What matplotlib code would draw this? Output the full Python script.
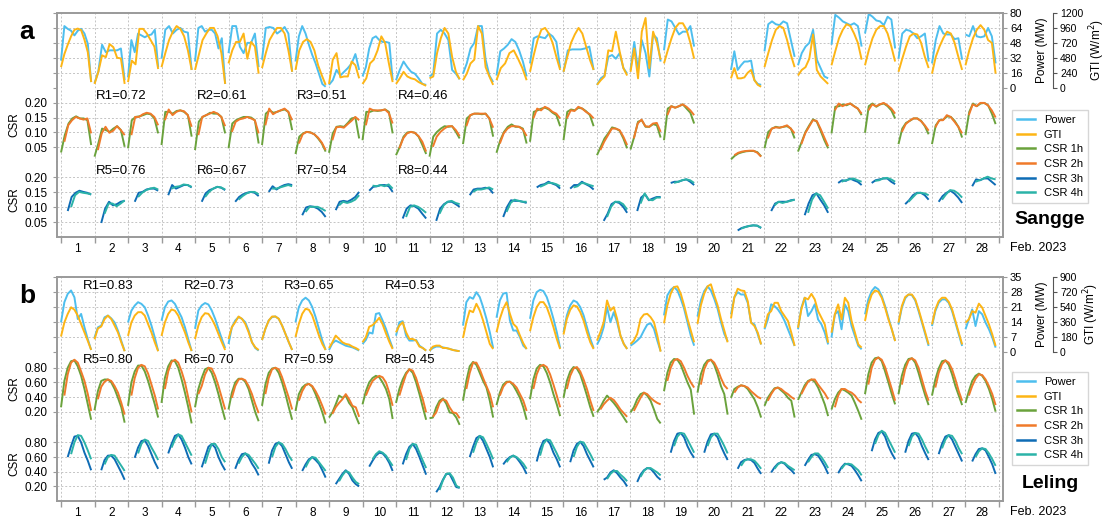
import numpy as np
import matplotlib
matplotlib.use('Agg')
import matplotlib.pyplot as plt
from matplotlib.lines import Line2D

plt.rcParams['font.family'] = ['Liberation Sans', 'DejaVu Sans']
plt.rcParams['font.size'] = 8

# === COLOURS ===
C_POWER = '#4DBEEE'
C_GTI = '#FDB515'
C_CSR1 = '#6AA23C'
C_CSR2 = '#F07A2A'
C_CSR3 = '#0E6CB5'
C_CSR4 = '#2BB3A8'
GRID_C = '#c4c4c4'
SPINE_C = '#9a9a9a'

DAYS = list(range(1, 29))
DAY_LABELS = [str(d) for d in DAYS]

# === SANGGE (hourly daytime values, one list per day) ===
sangge_power = [
    [29, 66, 63, 61, 56, 61, 63, 58, 47, 6], [5, 17, 46, 38, 40, 40, 40, 42, 8],
    [11, 51, 38, 58, 56, 54, 56, 57, 62, 22], [31, 62, 66, 58, 62, 64, 60, 59, 19],
    [28, 64, 66, 60, 62, 62, 58, 42, 53, 4], [37, 66, 66, 44, 37, 48, 48, 58, 22],
    [30, 64, 65, 64, 58, 61, 65, 58, 17], [28, 55, 66, 58, 46, 35, 26, 15, 4, 1],
    [3, 8, 19, 13, 17, 21, 26, 36, 19], [12, 22, 42, 53, 55, 51, 49, 49, 48, 8],
    [8, 19, 28, 22, 17, 15, 10, 4, 3], [12, 15, 58, 62, 58, 51, 19, 15, 9],
    [15, 26, 42, 48, 66, 66, 30, 13, 6], [13, 39, 42, 46, 52, 49, 40, 28, 12],
    [26, 53, 55, 54, 53, 58, 55, 49, 21], [17, 40, 41, 41, 41, 42, 44, 19],
    [3, 10, 13, 33, 35, 31, 37, 21, 15], [19, 49, 19, 51, 37, 12, 57, 53, 28],
    [40, 73, 71, 64, 57, 60, 60, 66, 44], [],
    [19, 39, 19, 24, 28, 28, 29, 8, 4, 3], [39, 68, 71, 68, 67, 71, 69, 51, 33],
    [24, 37, 44, 48, 62, 30, 21, 12, 10], [46, 78, 75, 71, 69, 67, 69, 66, 44],
    [58, 79, 76, 72, 71, 67, 76, 73, 42], [31, 58, 62, 61, 58, 53, 55, 58, 28],
    [26, 51, 66, 58, 57, 57, 52, 53, 30], [57, 55, 66, 55, 54, 55, 64, 55, 26],
]
sangge_gti = [
    [330, 540, 690, 825, 930, 950, 925, 770, 570, 90], [60, 250, 520, 490, 700, 650, 480, 470, 60],
    [90, 435, 375, 945, 945, 870, 765, 660, 300], [330, 555, 765, 900, 990, 945, 825, 600, 285],
    [285, 525, 765, 870, 960, 960, 825, 555, 60], [390, 600, 735, 735, 870, 465, 735, 660, 225],
    [315, 555, 765, 870, 960, 960, 870, 600, 255], [285, 600, 735, 780, 735, 600, 360, 195, 45],
    [60, 450, 555, 165, 180, 180, 420, 360, 150], [60, 150, 390, 450, 600, 825, 720, 390, 90],
    [60, 150, 255, 180, 150, 135, 90, 60, 30], [150, 180, 555, 795, 960, 870, 495, 255, 135],
    [120, 225, 390, 450, 990, 870, 330, 180, 45], [120, 315, 390, 555, 600, 465, 315, 120],
    [255, 525, 765, 930, 960, 870, 720, 495, 285], [255, 495, 720, 855, 960, 870, 660, 450, 285],
    [45, 120, 180, 600, 585, 900, 585, 315, 195], [255, 630, 150, 900, 1120, 315, 900, 720, 450],
    [390, 600, 795, 960, 1035, 1035, 930, 720, 465], [],
    [150, 315, 150, 150, 165, 240, 285, 120, 45, 15], [330, 555, 765, 930, 990, 960, 765, 525, 330],
    [195, 285, 330, 465, 855, 285, 180, 120, 60], [360, 585, 795, 930, 1020, 990, 870, 720, 450],
    [360, 600, 795, 930, 990, 990, 870, 660, 420], [255, 465, 660, 825, 870, 855, 720, 495, 315],
    [225, 495, 660, 795, 900, 870, 720, 495, 285], [360, 600, 795, 930, 1005, 930, 765, 720, 225],
]
sangge_csr1 = [
    [0.033, 0.091, 0.13, 0.147, 0.154, 0.147, 0.147, 0.141, 0.058],
    [0.019, 0.063, 0.113, 0.108, 0.102, 0.113, 0.121, 0.108, 0.052],
    [0.047, 0.141, 0.152, 0.154, 0.158, 0.163, 0.161, 0.147, 0.097],
    [0.058, 0.169, 0.169, 0.163, 0.172, 0.174, 0.169, 0.158, 0.086],
    [0.041, 0.136, 0.152, 0.158, 0.166, 0.163, 0.163, 0.152, 0.097],
    [0.047, 0.13, 0.141, 0.147, 0.152, 0.152, 0.15, 0.141, 0.063],
    [0.058, 0.163, 0.174, 0.166, 0.169, 0.174, 0.177, 0.169, 0.108],
    [0.028, 0.086, 0.097, 0.102, 0.1, 0.094, 0.08, 0.063, 0.036],
    [0.032, 0.097, 0.119, 0.121, 0.119, 0.132, 0.147, 0.15, 0.08],
    [0.074, 0.169, 0.169, 0.174, 0.172, 0.174, 0.177, 0.169, 0.097],
    [0.024, 0.052, 0.086, 0.1, 0.102, 0.099, 0.086, 0.058, 0.028],
    [0.019, 0.086, 0.102, 0.113, 0.121, 0.119, 0.121, 0.102, 0.08],
    [0.061, 0.147, 0.158, 0.163, 0.163, 0.161, 0.163, 0.147, 0.086],
    [0.032, 0.074, 0.102, 0.119, 0.127, 0.119, 0.119, 0.113, 0.063],
    [0.069, 0.169, 0.174, 0.18, 0.183, 0.177, 0.166, 0.158, 0.121],
    [0.074, 0.169, 0.177, 0.174, 0.183, 0.18, 0.171, 0.158, 0.121],
    [0.024, 0.052, 0.08, 0.097, 0.117, 0.113, 0.106, 0.08, 0.047],
    [0.043, 0.086, 0.136, 0.141, 0.119, 0.119, 0.128, 0.124, 0.083],
    [0.074, 0.18, 0.188, 0.183, 0.188, 0.194, 0.18, 0.166, 0.13],
    [],
    [0.01, 0.022, 0.03, 0.034, 0.037, 0.038, 0.038, 0.034, 0.02],
    [0.047, 0.102, 0.113, 0.119, 0.116, 0.119, 0.121, 0.113, 0.08],
    [0.036, 0.069, 0.102, 0.124, 0.144, 0.136, 0.106, 0.074, 0.047],
    [0.097, 0.186, 0.188, 0.194, 0.191, 0.197, 0.188, 0.18, 0.158],
    [0.099, 0.188, 0.197, 0.186, 0.194, 0.197, 0.188, 0.174, 0.147],
    [0.061, 0.113, 0.132, 0.139, 0.147, 0.147, 0.139, 0.121, 0.094],
    [0.061, 0.124, 0.141, 0.143, 0.154, 0.152, 0.139, 0.119, 0.083],
    [0.091, 0.169, 0.197, 0.188, 0.197, 0.199, 0.191, 0.163, 0.128],
]
sangge_csr2 = [
    [0.069, 0.124, 0.141, 0.152, 0.147, 0.143, 0.147, 0.097],
    [0.041, 0.097, 0.119, 0.099, 0.106, 0.121, 0.108, 0.091],
    [0.091, 0.152, 0.152, 0.161, 0.166, 0.163, 0.152, 0.124],
    [0.141, 0.177, 0.158, 0.169, 0.174, 0.171, 0.158, 0.119],
    [0.091, 0.152, 0.158, 0.163, 0.169, 0.163, 0.152, 0.121],
    [0.102, 0.136, 0.144, 0.147, 0.152, 0.147, 0.141, 0.097],
    [0.124, 0.18, 0.161, 0.169, 0.174, 0.18, 0.169, 0.141],
    [0.063, 0.094, 0.102, 0.1, 0.094, 0.083, 0.066, 0.041],
    [0.074, 0.117, 0.119, 0.116, 0.128, 0.139, 0.152, 0.141],
    [0.124, 0.18, 0.174, 0.174, 0.174, 0.177, 0.165, 0.13],
    [0.047, 0.08, 0.097, 0.102, 0.099, 0.088, 0.069, 0.036],
    [0.052, 0.086, 0.102, 0.113, 0.121, 0.121, 0.108, 0.088],
    [0.121, 0.158, 0.163, 0.163, 0.163, 0.163, 0.147, 0.116],
    [0.063, 0.097, 0.113, 0.121, 0.121, 0.119, 0.11, 0.088],
    [0.147, 0.18, 0.174, 0.186, 0.18, 0.169, 0.163, 0.147],
    [0.147, 0.174, 0.172, 0.186, 0.18, 0.169, 0.161, 0.147],
    [0.041, 0.069, 0.091, 0.113, 0.113, 0.108, 0.086, 0.058],
    [0.08, 0.13, 0.143, 0.121, 0.119, 0.13, 0.132, 0.102],
    [0.158, 0.188, 0.183, 0.188, 0.194, 0.186, 0.174, 0.158],
    [],
    [0.024, 0.032, 0.036, 0.038, 0.039, 0.039, 0.032, 0.019],
    [0.08, 0.113, 0.117, 0.116, 0.119, 0.124, 0.113, 0.097],
    [0.061, 0.097, 0.119, 0.141, 0.139, 0.113, 0.083, 0.054],
    [0.174, 0.197, 0.188, 0.194, 0.197, 0.188, 0.18, 0.163],
    [0.174, 0.194, 0.188, 0.194, 0.199, 0.191, 0.18, 0.163],
    [0.102, 0.128, 0.139, 0.147, 0.147, 0.138, 0.124, 0.106],
    [0.117, 0.141, 0.141, 0.158, 0.152, 0.136, 0.119, 0.097],
    [0.158, 0.194, 0.188, 0.199, 0.199, 0.191, 0.174, 0.15],
]
sangge_csr3 = [
    [0.087, 0.134, 0.148, 0.155, 0.151, 0.148, 0.142],
    [0.047, 0.095, 0.118, 0.106, 0.11, 0.118, 0.121],
    [0.118, 0.148, 0.151, 0.159, 0.162, 0.162, 0.155],
    [0.14, 0.174, 0.162, 0.168, 0.174, 0.174, 0.166],
    [0.118, 0.146, 0.157, 0.162, 0.168, 0.165, 0.157],
    [0.118, 0.134, 0.143, 0.148, 0.151, 0.148, 0.137],
    [0.151, 0.17, 0.159, 0.168, 0.174, 0.177, 0.174],
    [0.073, 0.099, 0.103, 0.101, 0.095, 0.084, 0.067],
    [0.09, 0.118, 0.121, 0.118, 0.125, 0.134, 0.151],
    [0.155, 0.168, 0.17, 0.174, 0.174, 0.17, 0.151],
    [0.062, 0.095, 0.106, 0.103, 0.095, 0.078, 0.062],
    [0.054, 0.095, 0.11, 0.118, 0.118, 0.11, 0.101],
    [0.14, 0.159, 0.162, 0.162, 0.165, 0.162, 0.146],
    [0.067, 0.101, 0.123, 0.121, 0.121, 0.118, 0.114],
    [0.166, 0.174, 0.177, 0.185, 0.179, 0.174, 0.162],
    [0.162, 0.174, 0.174, 0.185, 0.177, 0.17, 0.159],
    [0.054, 0.078, 0.11, 0.118, 0.114, 0.101, 0.081],
    [0.087, 0.132, 0.143, 0.123, 0.129, 0.134, 0.134],
    [0.181, 0.185, 0.185, 0.19, 0.193, 0.185, 0.174],
    [],
    [0.022, 0.03, 0.034, 0.037, 0.039, 0.038, 0.03],
    [0.087, 0.112, 0.118, 0.118, 0.118, 0.123, 0.125],
    [0.073, 0.112, 0.14, 0.146, 0.125, 0.106, 0.081],
    [0.181, 0.19, 0.188, 0.196, 0.19, 0.185, 0.174],
    [0.181, 0.19, 0.193, 0.196, 0.196, 0.185, 0.177],
    [0.11, 0.123, 0.14, 0.148, 0.148, 0.14, 0.125],
    [0.118, 0.137, 0.148, 0.155, 0.146, 0.132, 0.114],
    [0.17, 0.193, 0.19, 0.196, 0.196, 0.185, 0.174],
]
sangge_csr4 = [
    [0.1, 0.14, 0.151, 0.148, 0.146, 0.143],
    [0.078, 0.112, 0.112, 0.103, 0.112, 0.123],
    [0.134, 0.148, 0.157, 0.162, 0.165, 0.159],
    [0.162, 0.168, 0.17, 0.176, 0.174, 0.168],
    [0.134, 0.151, 0.162, 0.168, 0.166, 0.159],
    [0.125, 0.137, 0.146, 0.151, 0.151, 0.143],
    [0.162, 0.162, 0.166, 0.17, 0.174, 0.17],
    [0.084, 0.101, 0.101, 0.101, 0.095, 0.087],
    [0.106, 0.118, 0.114, 0.118, 0.125, 0.14],
    [0.172, 0.17, 0.174, 0.17, 0.176, 0.162],
    [0.067, 0.101, 0.106, 0.101, 0.092, 0.081],
    [0.078, 0.106, 0.118, 0.121, 0.114, 0.11],
    [0.151, 0.159, 0.159, 0.162, 0.166, 0.159],
    [0.084, 0.114, 0.125, 0.121, 0.118, 0.118],
    [0.168, 0.174, 0.181, 0.181, 0.177, 0.17],
    [0.166, 0.17, 0.181, 0.179, 0.174, 0.17],
    [0.067, 0.101, 0.118, 0.118, 0.11, 0.092],
    [0.112, 0.146, 0.125, 0.123, 0.132, 0.132],
    [0.181, 0.185, 0.19, 0.193, 0.19, 0.181],
    [],
    [0.028, 0.033, 0.037, 0.039, 0.038, 0.031],
    [0.106, 0.118, 0.114, 0.118, 0.121, 0.125],
    [0.081, 0.125, 0.146, 0.14, 0.118, 0.095],
    [0.185, 0.19, 0.193, 0.196, 0.19, 0.185],
    [0.188, 0.19, 0.196, 0.198, 0.193, 0.185],
    [0.118, 0.132, 0.146, 0.148, 0.146, 0.14],
    [0.125, 0.143, 0.157, 0.155, 0.146, 0.132],
    [0.185, 0.19, 0.196, 0.202, 0.196, 0.193],
]

# === LELING ===
leling_power = [
    [13.7, 23.2, 27.1, 28.7, 25.5, 15.3, 17.7, 11.4, 5.8, 0.8],
    [6.6, 11.4, 12.2, 16.1, 16.9, 15.6, 13.7, 9.8, 5.0, 0.3],
    [13.7, 19.2, 21.6, 23.2, 22.4, 20.8, 16.9, 12.2, 6.6, 0.3],
    [14.5, 20.8, 23.5, 24.0, 22.4, 19.2, 16.1, 11.4, 5.8, 0.3],
    [10.7, 19.3, 21.7, 22.8, 22.1, 19.3, 15.4, 10.7, 6.0, 1.7],
    [3.6, 11.5, 14.6, 16.2, 15.4, 13.8, 9.9, 4.4, 1.7, 0.5],
    [5.5, 10.7, 14.6, 16.2, 16.5, 15.4, 12.2, 8.3, 4.4, 0.8],
    [13.8, 20.9, 24.0, 25.3, 24.0, 20.9, 16.2, 10.7, 5.2, 0.8],
    [0.8, 3.9, 5.2, 4.4, 3.6, 2.8, 2.4, 2.0, 1.3, 0.5],
    [3.6, 5.5, 9.0, 8.5, 17.7, 18.1, 14.6, 10.7, 6.0, 1.7],
    [7.5, 13.8, 14.3, 7.5, 5.2, 5.2, 5.5, 2.8, 1.7, 0.5],
    [0.5, 1.7, 2.4, 2.4, 2.0, 1.7, 1.3, 0.8, 0.5, 0.2],
    [12.2, 23.2, 25.6, 24.8, 27.9, 25.6, 20.9, 15.4, 9.1, 1.7],
    [15.9, 24.0, 27.2, 27.6, 14.6, 9.9, 9.9, 6.8, 2.8, 1.3],
    [15.4, 24.0, 27.9, 29.0, 28.4, 25.6, 20.9, 15.4, 9.1, 1.7],
    [9.1, 17.0, 21.7, 24.0, 23.2, 20.9, 17.0, 11.5, 6.0, 1.7],
    [3.3, 6.4, 11.5, 20.9, 13.8, 18.5, 13.8, 7.5, 3.6, 1.3],
    [2.8, 3.9, 5.2, 6.8, 9.9, 12.7, 13.3, 10.7, 5.2, 0.2],
    [17.0, 26.4, 29.0, 30.3, 28.7, 24.8, 20.1, 13.8, 7.5, 2.8],
    [16.5, 24.0, 28.4, 30.6, 28.7, 24.8, 20.1, 13.8, 8.3, 4.9],
    [17.5, 25.5, 27.9, 26.8, 26.8, 22.9, 13.6, 12.8, 8.1, 3.4],
    [10.5, 15.1, 22.2, 21.4, 19.8, 17.5, 14.4, 10.5, 6.6, 2.7],
    [10.5, 20.6, 25.3, 16.7, 19.0, 22.2, 15.1, 12.8, 8.9, 3.4],
    [6.6, 17.5, 19.0, 10.5, 22.2, 19.0, 12.0, 7.3, 2.7, 1.1],
    [17.5, 24.5, 28.4, 30.3, 29.2, 26.1, 21.4, 15.9, 10.5, 5.0],
    [12.8, 20.6, 25.0, 26.8, 26.5, 24.0, 19.0, 13.6, 8.1, 2.7],
    [12.0, 19.0, 22.9, 24.5, 24.5, 22.9, 19.0, 13.6, 8.1, 2.7],
    [10.5, 15.1, 19.8, 12.0, 19.0, 17.5, 13.6, 10.5, 6.6, 1.9],
]
leling_gti = [
    [183, 352, 455, 535, 506, 434, 332, 231, 129, 21],
    [149, 280, 303, 393, 435, 393, 314, 231, 111, 5],
    [190, 352, 435, 476, 476, 435, 332, 231, 111, 5],
    [190, 352, 455, 509, 494, 435, 332, 231, 111, 8],
    [153, 315, 417, 464, 456, 396, 315, 214, 113, 20],
    [153, 295, 355, 424, 396, 335, 234, 113, 52, 20],
    [141, 275, 375, 424, 424, 396, 315, 214, 113, 20],
    [178, 335, 456, 517, 505, 436, 315, 194, 93, 20],
    [44, 113, 194, 153, 113, 93, 85, 61, 44, 20],
    [113, 174, 300, 320, 360, 408, 330, 220, 120, 32],
    [234, 315, 355, 234, 153, 153, 133, 61, 44, 12],
    [12, 61, 73, 73, 44, 44, 33, 20, 12, 4],
    [165, 355, 496, 476, 577, 496, 375, 234, 93, 32],
    [234, 396, 517, 596, 456, 335, 296, 194, 101, 32],
    [246, 416, 537, 597, 597, 537, 424, 295, 153, 32],
    [206, 396, 505, 558, 545, 476, 375, 234, 113, 32],
    [133, 234, 355, 617, 496, 537, 396, 194, 93, 32],
    [93, 133, 214, 396, 448, 456, 416, 355, 194, 0],
    [342, 558, 699, 779, 787, 699, 558, 396, 255, 113],
    [335, 558, 699, 787, 812, 679, 558, 396, 255, 113],
    [400, 655, 758, 738, 731, 609, 350, 309, 229, 87],
    [288, 450, 489, 589, 589, 489, 429, 370, 229, 69],
    [288, 509, 650, 630, 697, 630, 489, 409, 329, 108],
    [229, 450, 570, 389, 650, 589, 370, 229, 87, 49],
    [370, 570, 689, 738, 722, 650, 530, 389, 270, 128],
    [350, 550, 658, 689, 689, 630, 509, 370, 229, 87],
    [329, 509, 609, 650, 650, 601, 509, 370, 229, 87],
    [350, 389, 489, 470, 579, 530, 429, 329, 208, 69],
]
leling_csr1 = [
    [0.26, 0.62, 0.80, 0.89, 0.90, 0.82, 0.69, 0.51, 0.30, 0.09],
    [0.22, 0.48, 0.62, 0.64, 0.64, 0.60, 0.51, 0.39, 0.26, 0.05],
    [0.28, 0.60, 0.75, 0.83, 0.83, 0.75, 0.62, 0.46, 0.30, 0.12],
    [0.32, 0.66, 0.82, 0.90, 0.89, 0.80, 0.64, 0.46, 0.26, 0.04],
    [0.26, 0.51, 0.66, 0.78, 0.80, 0.73, 0.60, 0.44, 0.26, 0.09],
    [0.23, 0.46, 0.60, 0.65, 0.65, 0.61, 0.51, 0.35, 0.19, 0.07],
    [0.28, 0.57, 0.73, 0.79, 0.80, 0.73, 0.60, 0.44, 0.26, 0.09],
    [0.21, 0.44, 0.53, 0.57, 0.58, 0.54, 0.44, 0.32, 0.19, 0.04],
    [0.12, 0.19, 0.30, 0.42, 0.39, 0.42, 0.32, 0.26, 0.14, 0.03],
    [0.30, 0.48, 0.60, 0.66, 0.69, 0.67, 0.60, 0.51, 0.37, 0.10],
    [0.32, 0.51, 0.64, 0.73, 0.78, 0.73, 0.60, 0.44, 0.26, 0.09],
    [0.11, 0.12, 0.26, 0.35, 0.38, 0.31, 0.19, 0.18, 0.12, 0.02],
    [0.35, 0.62, 0.82, 0.88, 0.84, 0.73, 0.62, 0.53, 0.35, 0.12],
    [0.29, 0.46, 0.57, 0.61, 0.61, 0.56, 0.48, 0.39, 0.26, 0.09],
    [0.37, 0.64, 0.79, 0.84, 0.82, 0.73, 0.60, 0.44, 0.30, 0.14],
    [0.39, 0.62, 0.75, 0.81, 0.79, 0.71, 0.57, 0.42, 0.26, 0.13],
    [0.19, 0.26, 0.35, 0.42, 0.37, 0.32, 0.26, 0.19, 0.12, 0.05],
    [0.19, 0.26, 0.37, 0.44, 0.46, 0.42, 0.35, 0.23, 0.10, 0.04],
    [0.48, 0.73, 0.87, 0.92, 0.91, 0.84, 0.72, 0.60, 0.50, 0.16],
    [0.46, 0.71, 0.84, 0.90, 0.91, 0.84, 0.71, 0.55, 0.44, 0.16],
    [0.39, 0.51, 0.54, 0.56, 0.55, 0.51, 0.44, 0.37, 0.26, 0.12],
    [0.28, 0.39, 0.46, 0.52, 0.53, 0.49, 0.45, 0.39, 0.35, 0.12],
    [0.36, 0.46, 0.56, 0.62, 0.64, 0.61, 0.53, 0.42, 0.30, 0.14],
    [0.23, 0.37, 0.46, 0.51, 0.49, 0.46, 0.42, 0.32, 0.21, 0.09],
    [0.44, 0.71, 0.87, 0.93, 0.94, 0.89, 0.75, 0.60, 0.44, 0.30],
    [0.44, 0.69, 0.84, 0.92, 0.93, 0.87, 0.73, 0.57, 0.42, 0.29],
    [0.42, 0.64, 0.79, 0.89, 0.90, 0.84, 0.71, 0.55, 0.42, 0.29],
    [0.32, 0.48, 0.62, 0.69, 0.72, 0.69, 0.62, 0.51, 0.37, 0.20],
]
leling_csr2 = [
    [0.42, 0.71, 0.87, 0.91, 0.87, 0.75, 0.62, 0.44, 0.21],
    [0.37, 0.54, 0.61, 0.64, 0.62, 0.55, 0.46, 0.32, 0.16],
    [0.42, 0.66, 0.80, 0.84, 0.82, 0.72, 0.57, 0.42, 0.23],
    [0.51, 0.75, 0.88, 0.91, 0.87, 0.75, 0.60, 0.39, 0.19],
    [0.44, 0.55, 0.71, 0.80, 0.79, 0.69, 0.55, 0.39, 0.23],
    [0.39, 0.55, 0.64, 0.65, 0.63, 0.55, 0.44, 0.30, 0.18],
    [0.44, 0.66, 0.78, 0.80, 0.78, 0.67, 0.53, 0.39, 0.23],
    [0.35, 0.48, 0.56, 0.58, 0.55, 0.48, 0.39, 0.28, 0.16],
    [0.17, 0.26, 0.32, 0.37, 0.44, 0.37, 0.28, 0.26, 0.13],
    [0.42, 0.53, 0.62, 0.66, 0.69, 0.67, 0.60, 0.46, 0.28],
    [0.42, 0.57, 0.71, 0.78, 0.76, 0.66, 0.51, 0.37, 0.19],
    [0.13, 0.19, 0.32, 0.37, 0.35, 0.26, 0.19, 0.18, 0.11],
    [0.51, 0.73, 0.87, 0.87, 0.78, 0.66, 0.55, 0.44, 0.26],
    [0.42, 0.54, 0.60, 0.61, 0.58, 0.53, 0.44, 0.35, 0.21],
    [0.51, 0.71, 0.82, 0.84, 0.81, 0.71, 0.57, 0.42, 0.26],
    [0.51, 0.69, 0.79, 0.81, 0.75, 0.64, 0.51, 0.35, 0.21],
    [0.23, 0.30, 0.35, 0.39, 0.36, 0.30, 0.23, 0.18, 0.13],
    [0.21, 0.30, 0.39, 0.46, 0.44, 0.39, 0.35, 0.32, 0.30],
    [0.62, 0.80, 0.90, 0.92, 0.89, 0.80, 0.69, 0.60, 0.53],
    [0.57, 0.78, 0.88, 0.91, 0.87, 0.78, 0.66, 0.56, 0.51],
    [0.46, 0.53, 0.56, 0.55, 0.53, 0.48, 0.44, 0.40, 0.38],
    [0.35, 0.44, 0.51, 0.53, 0.51, 0.47, 0.44, 0.40, 0.37],
    [0.44, 0.53, 0.61, 0.64, 0.64, 0.57, 0.51, 0.45, 0.37],
    [0.26, 0.42, 0.51, 0.51, 0.48, 0.46, 0.42, 0.36, 0.32],
    [0.57, 0.80, 0.91, 0.94, 0.91, 0.81, 0.66, 0.51, 0.35],
    [0.57, 0.78, 0.90, 0.93, 0.90, 0.80, 0.64, 0.48, 0.35],
    [0.53, 0.73, 0.85, 0.90, 0.87, 0.78, 0.64, 0.48, 0.35],
    [0.42, 0.55, 0.65, 0.71, 0.70, 0.64, 0.55, 0.44, 0.29],
]
leling_csr3 = [
    [0.60, 0.75, 0.88, 0.89, 0.80, 0.66, 0.55, 0.42],
    [0.42, 0.56, 0.62, 0.62, 0.57, 0.48, 0.39, 0.29],
    [0.59, 0.73, 0.82, 0.83, 0.75, 0.64, 0.53, 0.44],
    [0.65, 0.78, 0.89, 0.91, 0.84, 0.73, 0.60, 0.50],
    [0.46, 0.60, 0.74, 0.78, 0.73, 0.60, 0.50, 0.42],
    [0.44, 0.56, 0.64, 0.65, 0.60, 0.51, 0.44, 0.35],
    [0.51, 0.69, 0.78, 0.80, 0.75, 0.64, 0.53, 0.44],
    [0.41, 0.50, 0.57, 0.60, 0.56, 0.51, 0.42, 0.32],
    [0.23, 0.30, 0.37, 0.42, 0.37, 0.28, 0.23, 0.20],
    [0.47, 0.55, 0.62, 0.66, 0.65, 0.60, 0.52, 0.41],
    [0.50, 0.64, 0.74, 0.78, 0.71, 0.60, 0.48, 0.36],
    [0.12, 0.19, 0.29, 0.37, 0.37, 0.28, 0.19, 0.18],
    [0.60, 0.74, 0.86, 0.89, 0.82, 0.71, 0.60, 0.46],
    [0.50, 0.56, 0.60, 0.62, 0.59, 0.53, 0.46, 0.37],
    [0.54, 0.71, 0.82, 0.84, 0.78, 0.66, 0.57, 0.46],
    [0.53, 0.69, 0.78, 0.81, 0.75, 0.64, 0.55, 0.46],
    [0.29, 0.32, 0.39, 0.42, 0.38, 0.32, 0.27, 0.20],
    [0.26, 0.36, 0.42, 0.45, 0.44, 0.39, 0.33, 0.29],
    [0.66, 0.82, 0.92, 0.93, 0.87, 0.75, 0.66, 0.59],
    [0.66, 0.81, 0.91, 0.92, 0.87, 0.75, 0.65, 0.56],
    [0.44, 0.53, 0.56, 0.57, 0.56, 0.52, 0.44, 0.37],
    [0.39, 0.46, 0.51, 0.53, 0.51, 0.46, 0.42, 0.37],
    [0.48, 0.56, 0.63, 0.64, 0.62, 0.55, 0.47, 0.37],
    [0.38, 0.46, 0.51, 0.50, 0.48, 0.42, 0.35, 0.27],
    [0.68, 0.84, 0.93, 0.95, 0.88, 0.75, 0.65, 0.57],
    [0.66, 0.82, 0.92, 0.93, 0.87, 0.75, 0.65, 0.56],
    [0.64, 0.78, 0.88, 0.90, 0.84, 0.74, 0.64, 0.54],
    [0.54, 0.64, 0.71, 0.72, 0.69, 0.60, 0.50, 0.37],
]
leling_csr4 = [
    [0.64, 0.80, 0.90, 0.89, 0.80, 0.69, 0.57],
    [0.50, 0.60, 0.63, 0.62, 0.55, 0.48, 0.41],
    [0.65, 0.78, 0.84, 0.82, 0.73, 0.65, 0.56],
    [0.73, 0.84, 0.91, 0.89, 0.80, 0.71, 0.62],
    [0.51, 0.66, 0.78, 0.78, 0.71, 0.60, 0.53],
    [0.51, 0.60, 0.65, 0.63, 0.57, 0.51, 0.44],
    [0.60, 0.74, 0.80, 0.78, 0.71, 0.62, 0.55],
    [0.46, 0.55, 0.60, 0.59, 0.53, 0.47, 0.41],
    [0.27, 0.35, 0.41, 0.39, 0.32, 0.26, 0.23],
    [0.57, 0.64, 0.68, 0.66, 0.62, 0.55, 0.48],
    [0.56, 0.71, 0.78, 0.77, 0.66, 0.55, 0.45],
    [0.15, 0.28, 0.37, 0.38, 0.32, 0.21, 0.18],
    [0.66, 0.80, 0.89, 0.87, 0.78, 0.68, 0.57],
    [0.53, 0.59, 0.62, 0.60, 0.56, 0.51, 0.44],
    [0.62, 0.78, 0.84, 0.83, 0.74, 0.65, 0.55],
    [0.60, 0.74, 0.81, 0.80, 0.72, 0.64, 0.55],
    [0.30, 0.37, 0.41, 0.41, 0.36, 0.32, 0.27],
    [0.33, 0.41, 0.45, 0.45, 0.42, 0.39, 0.35],
    [0.75, 0.88, 0.93, 0.92, 0.84, 0.75, 0.66],
    [0.75, 0.87, 0.92, 0.92, 0.84, 0.75, 0.65],
    [0.48, 0.55, 0.57, 0.57, 0.55, 0.50, 0.44],
    [0.44, 0.50, 0.53, 0.52, 0.48, 0.45, 0.42],
    [0.53, 0.60, 0.65, 0.65, 0.60, 0.53, 0.45],
    [0.44, 0.50, 0.51, 0.50, 0.46, 0.42, 0.35],
    [0.78, 0.90, 0.96, 0.93, 0.84, 0.75, 0.66],
    [0.75, 0.88, 0.93, 0.92, 0.84, 0.74, 0.65],
    [0.72, 0.84, 0.90, 0.89, 0.82, 0.72, 0.64],
    [0.60, 0.68, 0.72, 0.71, 0.65, 0.57, 0.48],
]

sangge_r = [0.72, 0.61, 0.51, 0.46, 0.76, 0.67, 0.54, 0.44]
leling_r = [0.83, 0.73, 0.65, 0.53, 0.80, 0.70, 0.59, 0.45]

# === LAYOUT (pixels of a 1110 x 521 canvas) ===
W, H = 1110, 521
AX_LEFT, AX_RIGHT = 57, 1003
BAND_H = 74.67
XLIM = (0.38, 28.62)

fig = plt.figure(figsize=(W / 100, H / 100), dpi=100)


def plot_days(ax, series, start, color):
    # each day's hourly values run from the left day boundary (+ forecast lag) to d+0.4
    for day, vals in zip(DAYS, series):
        if len(vals) == 0:
            continue
        x = np.linspace(day - 0.5 + start, day + 0.4, len(vals))
        ax.plot(x, vals, color=color, lw=1.4, solid_joinstyle='round', solid_capstyle='butt')


def style_band(ax, where):
    ax.set_xlim(*XLIM)
    ax.set_xticks(np.arange(0.5, 29, 1))
    ax.set_xticks(DAYS, minor=True)
    ax.grid(True, which='major', ls=(0, (2, 2)), color=GRID_C, lw=0.7)
    for s in ('left', 'right', 'top', 'bottom'):
        ax.spines[s].set_color(SPINE_C)
        ax.spines[s].set_linewidth(1.4)
    if where != 'top':
        ax.spines['top'].set_visible(False)
    if where != 'bot':
        ax.spines['bottom'].set_color('#333333')
        ax.spines['bottom'].set_linewidth(0.7)
        ax.spines['bottom'].set_linestyle((0, (3, 2)))
        ax.tick_params(axis='x', which='both', length=0, labelbottom=False)
    else:
        ax.set_xticklabels([], minor=False)
        ax.set_xticklabels(DAY_LABELS, minor=True)
        ax.tick_params(axis='x', which='major', length=4, color=SPINE_C, width=1)
        ax.tick_params(axis='x', which='minor', length=0, labelsize=8.5, pad=4)
    ax.tick_params(axis='y', which='both', length=3, color=SPINE_C, labelsize=8.5)


def draw_panel(top_px, power, gti, csr1, csr2, csr3, csr4, p_max, g_max, csr_max, csr_ticks,
               r_vals, r_in_top, r_x0, site, letter, legend_top_px):
    axes = []
    for k, where in enumerate(('top', 'mid', 'bot')):
        bottom = 1 - (top_px + BAND_H * (k + 1)) / H
        ax = fig.add_axes([AX_LEFT / W, bottom, (AX_RIGHT - AX_LEFT) / W, BAND_H / H])
        style_band(ax, where)
        axes.append(ax)
    ax_p, ax_m, ax_b = axes

    # GTI on an offset right-hand axis; twinx resets the host ticks, so it comes first
    ax_g = ax_p.twinx()
    plot_days(ax_g, gti, 0.0, C_GTI)
    ax_g.set_xlim(*XLIM)
    ax_g.set_ylim(0, g_max)
    ax_g.set_yticks(np.linspace(0, g_max, 6))
    for s in ('left', 'top', 'bottom'):
        ax_g.spines[s].set_visible(False)
    ax_g.spines['right'].set_position(('outward', 36))
    ax_g.spines['right'].set_color('#555555')
    ax_g.spines['right'].set_linewidth(0.8)
    ax_g.tick_params(axis='y', length=3, labelsize=7.5, pad=2, color='#555555')
    ax_g.set_ylabel('GTI (W/m$^2$)', fontsize=8.5, labelpad=3)

    # power band
    plot_days(ax_p, power, 0.0, C_POWER)
    ax_p.set_ylim(0, p_max)
    ax_p.set_yticks(np.linspace(0, p_max, 6))
    ax_p.tick_params(axis='y', left=True, right=True, labelleft=False, labelright=True,
                     labelsize=8, pad=2)
    ax_p.yaxis.set_label_position('right')
    ax_p.set_ylabel('Power (MW)', fontsize=8.5, labelpad=10)

    # CSR bands
    plot_days(ax_m, csr1, 0.0, C_CSR1)
    plot_days(ax_m, csr2, 0.1, C_CSR2)
    plot_days(ax_b, csr3, 0.2, C_CSR3)
    plot_days(ax_b, csr4, 0.3, C_CSR4)
    for ax in (ax_m, ax_b):
        ax.set_ylim(0, csr_max)
        ax.set_yticks(csr_ticks)
        ax.set_yticklabels(['%.2f' % t for t in csr_ticks])
        ax.set_ylabel('CSR', fontsize=8.5, labelpad=3)
        ax.tick_params(axis='y', right=False)

    # correlation labels
    if r_in_top:
        first, second = ax_p, ax_m
    else:
        first, second = ax_m, ax_b
    for i, r in enumerate(r_vals):
        tgt = first if i < 4 else second
        x = r_x0 + 3 * (i % 4)
        tgt.text(x, 0.885, 'R%d=%.2f' % (i + 1, r), transform=tgt.get_xaxis_transform(),
                 fontsize=9.5, va='center', ha='left', zorder=5)

    fig.text(1010 / W, 1 - (top_px + 235) / H, 'Feb. 2023', fontsize=9, ha='left', va='center')
    fig.text(1050 / W, 1 - (top_px + 206) / H, site, fontsize=14, fontweight='bold',
             ha='center', va='center')
    fig.text(27 / W, 1 - (top_px + 19) / H, letter, fontsize=19, fontweight='bold',
             ha='center', va='center')

    handles = [Line2D([], [], color=c, lw=1.8) for c in (C_POWER, C_GTI, C_CSR1, C_CSR2, C_CSR3, C_CSR4)]
    labels = ['Power', 'GTI', 'CSR 1h', 'CSR 2h', 'CSR 3h', 'CSR 4h']
    fig.legend(handles, labels, loc='upper left', bbox_to_anchor=(1012 / W, 1 - legend_top_px / H),
               borderaxespad=0, fontsize=8, handlelength=1.6, handletextpad=0.8, labelspacing=0.42,
               borderpad=0.45, frameon=True, edgecolor='#cccccc', fancybox=False)


draw_panel(13, sangge_power, sangge_gti, sangge_csr1, sangge_csr2, sangge_csr3, sangge_csr4,
           80, 1200, 0.25, [0.05, 0.10, 0.15, 0.20], sangge_r, False, 1.55, 'Sangge', 'a', 110)
draw_panel(277, leling_power, leling_gti, leling_csr1, leling_csr2, leling_csr3, leling_csr4,
           35, 900, 1.02, [0.20, 0.40, 0.60, 0.80], leling_r, True, 1.16, 'Leling', 'b', 372)

fig.savefig('out.png', dpi=100)
